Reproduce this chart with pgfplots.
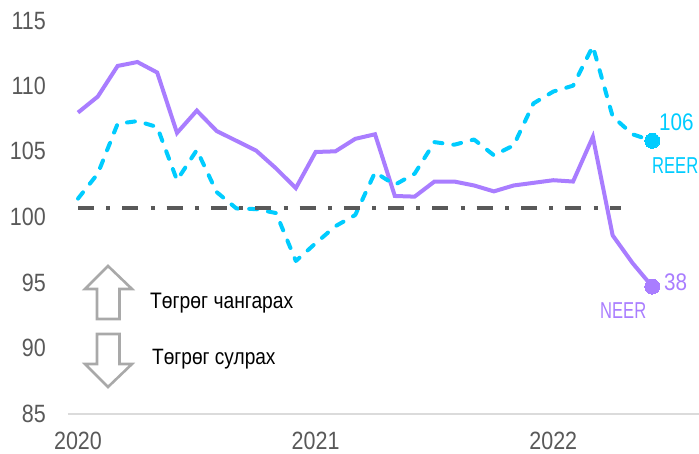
\documentclass[border=0pt]{standalone}
\usepackage{pgfplots}
\usepackage{fontspec}
\pgfplotsset{compat=1.18}
\setmainfont[FakeStretch=0.86]{Liberation Sans}
\newfontfamily\narrowf[FakeStretch=0.72]{Liberation Sans}
\definecolor{reer}{HTML}{00CCFF}
\definecolor{neer}{HTML}{A97DFF}
\definecolor{tick}{HTML}{595959}
\definecolor{dd}{HTML}{595959}
\definecolor{arr}{HTML}{A9A9A9}
\pgfplotstableread{
i neer reer
0 107.95 101.4
1 109.17 103.3
2 111.5 107.1
3 111.8 107.3
4 111.0 106.85
5 106.4 102.8
6 108.1 105.1
7 106.55 101.9
8 105.8 100.65
9 105.05 100.6
10 103.7 100.3
11 102.2 96.65
12 104.95 98.0
13 105.0 99.3
14 105.95 100.15
15 106.3 103.4
16 101.6 102.45
17 101.55 103.3
18 102.7 105.7
19 102.7 105.5
20 102.4 105.9
21 101.95 104.7
22 102.4 105.45
23 102.6 108.65
24 102.8 109.55
25 102.7 110.0
26 106.1 113.0
27 98.6 107.65
28 96.5 106.3
29 94.7 105.8
}\ratedata
\begin{document}
\begin{tikzpicture}[x=1pt,y=1pt]
\useasboundingbox (0,0) rectangle (699,454);
\begin{axis}[
  at={(68pt,40pt)}, anchor=south west,
  scale only axis, width=631pt, height=394pt,
  xmin=-0.505, xmax=31.36, ymin=85, ymax=115,
  clip=false,
  axis x line=bottom, axis y line=none,
  axis line style={draw=black!14, line width=2pt, -},
  xtick={0,12,24}, xticklabels={2020,2021,2022},
  ytick=\empty,
  tick style={draw=none},
  x tick label style={font=\fontsize{25}{28}\selectfont, text=tick, anchor=base, yshift=-33.5pt, inner sep=0pt},
  /pgf/number format/assume math mode=true,
]
\addplot[neer, line width=4pt, line join=miter] table[x=i,y=neer] {\ratedata};
\addplot[reer, line width=4pt, line cap=round, line join=round, dash pattern=on 8pt off 11pt] table[x=i,y=reer] {\ratedata};
\addplot[dd, line width=3.6pt, dash pattern=on 16pt off 12.3pt on 4pt off 12pt] coordinates {(0,100.7) (27.4,100.7)};
\addplot[only marks, mark=*, mark size=7.5pt, neer, mark options={fill=neer, draw=neer, line width=0pt}] coordinates {(29,94.7)};
\addplot[only marks, mark=*, mark size=7.5pt, reer, mark options={fill=reer, draw=reer, line width=0pt}] coordinates {(29,105.8)};
\end{axis}
% y tick labels
\foreach \v/\yy in {115/21,110/86,105/151.4,100/217,95/282.7,90/348.3,85/414}{
  \node[anchor=east, inner sep=0pt, text=tick, font=\fontsize{25}{28}\selectfont] at (46,454-\yy) {\v};
}
% arrows
\draw[arr, line width=2.6pt, miter limit=10] (108,188) -- (132,165) -- (119.5,165) -- (119.5,135) -- (97,135) -- (97,165) -- (85,165) -- cycle;
\draw[arr, line width=2.6pt, miter limit=10] (108,67) -- (132,90) -- (119.5,90) -- (119.5,120) -- (97,120) -- (97,90) -- (85,90) -- cycle;
% texts
\node[anchor=west, inner sep=0pt, font=\fontsize{22.4}{26}\selectfont] at (150,150.5) {Төгрөг чангарах};
\node[anchor=west, inner sep=0pt, font=\fontsize{22.2}{26}\selectfont] at (152,95) {Төгрөг сулрах};
\node[anchor=west, inner sep=0pt, text=reer, font=\fontsize{24}{28}\selectfont] at (659,331.5) {106};
\node[anchor=west, inner sep=0pt, text=reer, font=\narrowf\fontsize{23}{26}\selectfont] at (652,288) {REER};
\node[anchor=west, inner sep=0pt, text=neer, font=\fontsize{24}{28}\selectfont] at (664,172) {38};
\node[anchor=west, inner sep=0pt, text=neer, font=\narrowf\fontsize{23}{26}\selectfont] at (600,143) {NEER};
\end{tikzpicture}
\end{document}
